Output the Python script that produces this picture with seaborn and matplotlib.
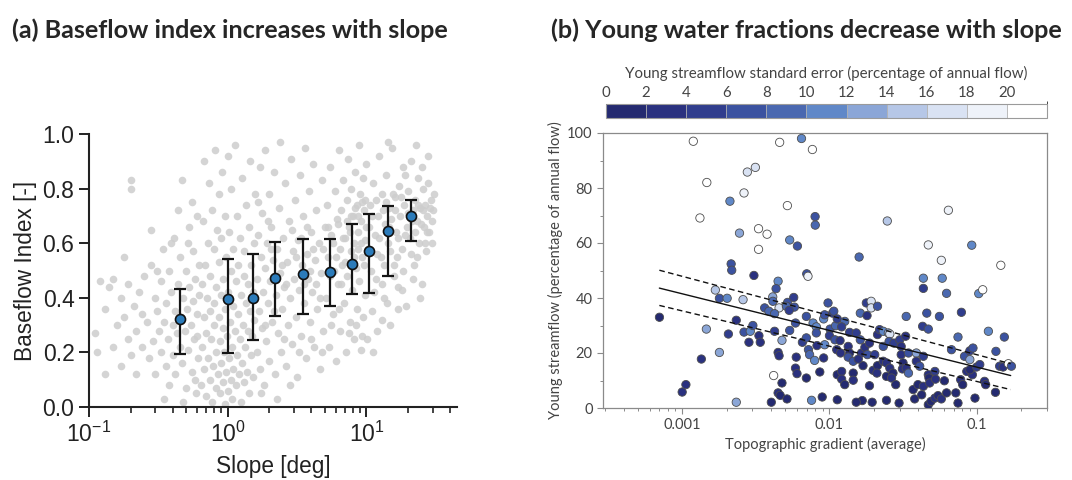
import numpy as np
import pandas as pd
import matplotlib
matplotlib.use("Agg")
import matplotlib.pyplot as plt
from matplotlib.colors import ListedColormap, BoundaryNorm
from matplotlib.cm import ScalarMappable
from matplotlib.ticker import LogLocator, NullFormatter, MultipleLocator
import seaborn as sns

# ---- panel (a): binned means with spread
bin_slope = [0.45, 1.0, 1.53, 2.21, 3.48, 5.49, 7.92, 10.5, 14.2, 20.8]
bin_mean = [0.323, 0.396, 0.398, 0.473, 0.488, 0.493, 0.525, 0.570, 0.643, 0.698]
bin_low = [0.193, 0.198, 0.244, 0.335, 0.341, 0.371, 0.414, 0.418, 0.479, 0.608]
bin_high = [0.433, 0.543, 0.560, 0.606, 0.617, 0.617, 0.669, 0.706, 0.735, 0.759]

# ---- panel (a): catchment cloud (slope in deg, baseflow index)
cloud_slope = [
    0.11, 0.12, 0.13, 0.13, 0.14, 0.15, 0.15, 0.16, 0.17, 0.17, 0.18, 0.19, 0.19, 0.2, 0.2,
    0.21, 0.22, 0.22, 0.23, 0.24, 0.24, 0.25, 0.18, 0.2, 0.115,
    0.26, 0.27, 0.28, 0.29, 0.3, 0.3, 0.31, 0.32, 0.33, 0.33, 0.34, 0.35, 0.36, 0.36, 0.37,
    0.38, 0.38, 0.39, 0.4, 0.4, 0.41, 0.42, 0.42, 0.43, 0.44, 0.45, 0.45, 0.46, 0.47, 0.47,
    0.48, 0.49, 0.5, 0.5, 0.51, 0.52, 0.53, 0.53, 0.54, 0.55, 0.56, 0.56, 0.57, 0.58, 0.59,
    0.6, 0.6, 0.61, 0.62, 0.62, 0.28, 0.35, 0.44, 0.52, 0.58, 0.31, 0.39, 0.48, 0.55, 0.6,
    0.64, 0.65, 0.65, 0.66, 0.67, 0.67, 0.68, 0.69, 0.7, 0.7, 0.71, 0.72, 0.72, 0.73, 0.74,
    0.74, 0.75, 0.76, 0.77, 0.77, 0.78, 0.79, 0.8, 0.8, 0.81, 0.82, 0.83, 0.83, 0.84, 0.85,
    0.86, 0.86, 0.87, 0.88, 0.88, 0.89, 0.9, 0.9, 0.91, 0.92, 0.93, 0.93, 0.94, 0.95, 0.96,
    0.96, 0.97, 0.98, 0.99, 1.0, 1.0, 1.01, 1.02, 1.03, 1.04, 1.05, 1.05, 1.06, 1.07, 1.08,
    1.09, 1.1, 1.1, 1.12, 1.13, 1.14, 1.15, 1.16, 1.17, 1.18, 1.19, 1.2, 1.22, 1.23, 1.24,
    1.25, 1.26, 1.27, 1.28, 1.3, 1.31, 1.32, 1.34, 1.35, 1.36, 1.38, 1.39, 1.4, 1.42, 1.43,
    1.44, 1.46, 1.47, 1.48, 1.5, 1.52, 1.53, 1.55, 1.56, 1.58,
    1.62, 1.64, 1.66, 1.68, 1.7, 1.72, 1.74, 1.76, 1.78, 1.8, 1.83, 1.85, 1.87, 1.9, 1.92,
    1.95, 1.97, 2.0, 2.03, 2.06, 2.1, 2.13, 2.16, 2.2, 2.23, 2.26, 2.3, 2.33, 2.37, 2.4,
    2.44, 2.48, 2.52, 2.56, 2.6, 2.64, 2.68, 2.72, 2.77, 2.82, 2.86, 2.9, 2.95, 3.0, 3.05,
    3.1, 3.15, 3.2, 3.25, 3.3, 3.36, 3.42, 3.48, 3.54, 3.6, 3.66, 3.72, 3.78, 3.85, 3.92,
    4.0, 4.07, 4.14, 4.2, 4.28, 4.36, 4.44, 4.52, 4.6, 4.7, 4.8, 4.9, 5.0, 1.75, 2.25,
    2.8, 1.95, 2.45, 3.1, 3.7, 4.3, 4.85, 1.65, 2.15, 2.65, 3.4, 3.9, 4.6, 2.05, 2.9,
    3.55, 4.15, 1.85, 2.55, 3.25, 4.0, 4.75,
    5.1, 5.2, 5.3, 5.4, 5.5, 5.6, 5.7, 5.8, 5.9, 6.0, 6.1, 6.2, 6.3, 6.4, 6.5,
    6.6, 6.7, 6.8, 6.9, 7.0, 7.1, 7.2, 7.3, 7.4, 7.5, 7.6, 7.7, 7.8, 7.9, 8.0,
    8.1, 8.2, 8.3, 8.4, 8.5, 8.6, 8.7, 8.8, 8.9, 9.0, 9.1, 9.2, 9.3, 9.4, 9.5,
    9.6, 9.7, 9.8, 9.9, 10.0, 5.25, 5.75, 6.25, 6.75, 7.25, 7.75, 8.25, 8.75, 9.25, 9.75,
    5.45, 6.05, 6.55, 7.05, 7.65, 8.15, 8.65, 9.15, 9.65, 5.6, 6.35, 7.45, 8.45, 9.35,
    10.3, 10.6, 10.9, 11.2, 11.5, 11.8, 12.1, 12.4, 12.7, 13.0, 13.3, 13.6, 13.9, 14.2, 14.5,
    14.8, 15.1, 15.4, 15.7, 16.0, 16.4, 16.8, 17.2, 17.6, 18.0, 18.4, 18.8, 19.2, 19.6, 20.0,
    20.5, 21.0, 21.5, 22.0, 22.5, 23.0, 23.5, 24.0, 24.5, 25.0, 25.5, 26.0, 26.5, 27.0, 27.5,
    28.0, 28.5, 29.0, 29.5, 30.0, 10.5, 11.0, 11.7, 12.3, 13.1, 13.8, 14.6, 15.5, 16.2, 17.0,
    17.9, 18.9, 19.9, 21.2, 22.3, 23.4, 24.6, 25.8, 27.2, 28.6, 10.8, 11.9, 13.4, 14.9, 16.6,
    18.5, 20.8, 23.3, 26.3, 11.4, 12.9, 14.0, 15.9, 18.2, 21.7, 10.1, 11.1, 12.0, 13.0, 16.9,
    24.2, 29.8, 27.9, 14.3, 22.8, 30.5, 19.0, 25.2,
]
cloud_bfi = [
    0.27, 0.46, 0.12, 0.36, 0.44, 0.22, 0.47, 0.30, 0.15, 0.40, 0.33, 0.25, 0.45, 0.83, 0.19,
    0.37, 0.28, 0.12, 0.42, 0.34, 0.22, 0.48, 0.55, 0.80, 0.20,
    0.31, 0.18, 0.52, 0.24, 0.40, 0.12, 0.35, 0.28, 0.46, 0.20, 0.58, 0.31, 0.15, 0.38, 0.25,
    0.50, 0.08, 0.42, 0.30, 0.19, 0.62, 0.35, 0.12, 0.27, 0.45, 0.22, 0.55, 0.33, 0.83, 0.16,
    0.40, 0.28, 0.07, 0.50, 0.36, 0.21, 0.66, 0.44, 0.30, 0.13, 0.39, 0.57, 0.25, 0.47, 0.05,
    0.34, 0.70, 0.18, 0.52, 0.41, 0.65, 0.03, 0.72, 0.60, 0.10, 0.50, 0.60, 0.02, 0.75, 0.26,
    0.08, 0.22, 0.45, 0.68, 0.14, 0.33, 0.90, 0.52, 0.04, 0.27, 0.40, 0.60, 0.18, 0.82, 0.10,
    0.35, 0.48, 0.25, 0.72, 0.02, 0.15, 0.38, 0.58, 0.30, 0.94, 0.07, 0.20, 0.44, 0.65, 0.12,
    0.33, 0.53, 0.78, 0.05, 0.24, 0.41, 0.16, 0.62, 0.86, 0.29, 0.09, 0.47, 0.20, 0.70, 0.36,
    0.01, 0.13, 0.55, 0.26, 0.92, 0.06, 0.42, 0.18, 0.64, 0.31, 0.10, 0.50, 0.80, 0.22, 0.03,
    0.37, 0.58, 0.14, 0.28, 0.96, 0.46, 0.08, 0.19, 0.70, 0.34, 0.52, 0.12, 0.25, 0.62, 0.41,
    0.02, 0.84, 0.16, 0.30, 0.48, 0.09, 0.57, 0.22, 0.38, 0.74, 0.13, 0.45, 0.28, 0.66, 0.05,
    0.35, 0.90, 0.19, 0.52, 0.26, 0.42, 0.11, 0.60, 0.32, 0.78,
    0.20, 0.47, 0.63, 0.35, 0.88, 0.14, 0.55, 0.29, 0.71, 0.42, 0.08, 0.51, 0.94, 0.24, 0.60,
    0.38, 0.78, 0.17, 0.46, 0.66, 0.31, 0.54, 0.86, 0.12, 0.41, 0.58, 0.27, 0.73, 0.49, 0.97,
    0.20, 0.36, 0.62, 0.44, 0.82, 0.15, 0.53, 0.30, 0.68, 0.40, 0.91, 0.23, 0.57, 0.47, 0.76,
    0.33, 0.11, 0.61, 0.43, 0.85, 0.26, 0.52, 0.70, 0.38, 0.95, 0.18, 0.56, 0.47, 0.79, 0.31,
    0.64, 0.42, 0.89, 0.22, 0.54, 0.72, 0.36, 0.60, 0.14, 0.49, 0.83, 0.28, 0.66, 0.05, 0.03,
    0.08, 0.68, 0.52, 0.55, 0.66, 0.45, 0.58, 0.75, 0.35, 0.45, 0.62, 0.50, 0.40, 0.58, 0.65,
    0.45, 0.58, 0.30, 0.25, 0.20, 0.25, 0.20,
    0.40, 0.74, 0.55, 0.22, 0.88, 0.63, 0.34, 0.50, 0.79, 0.17, 0.69, 0.45, 0.94, 0.58, 0.28,
    0.72, 0.52, 0.83, 0.38, 0.62, 0.20, 0.76, 0.48, 0.91, 0.66, 0.31, 0.57, 0.80, 0.43, 0.70,
    0.25, 0.60, 0.86, 0.51, 0.74, 0.36, 0.64, 0.96, 0.46, 0.78, 0.21, 0.68, 0.55, 0.84, 0.33,
    0.72, 0.61, 0.41, 0.89, 0.66, 0.66, 0.60, 0.67, 0.62, 0.68, 0.70, 0.73, 0.70, 0.75, 0.76,
    0.48, 0.55, 0.45, 0.53, 0.64, 0.55, 0.58, 0.60, 0.52, 0.30, 0.36, 0.27, 0.30, 0.26,
    0.58, 0.74, 0.35, 0.82, 0.63, 0.47, 0.70, 0.92, 0.55, 0.78, 0.40, 0.67, 0.85, 0.60, 0.73,
    0.30, 0.69, 0.95, 0.52, 0.77, 0.64, 0.44, 0.81, 0.70, 0.58, 0.88, 0.74, 0.37, 0.66, 0.79,
    0.62, 0.90, 0.72, 0.52, 0.76, 0.68, 0.84, 0.60, 0.73, 0.45, 0.80, 0.66, 0.74, 0.57, 0.70,
    0.82, 0.64, 0.76, 0.68, 0.72, 0.66, 0.70, 0.76, 0.62, 0.72, 0.75, 0.66, 0.78, 0.72, 0.62,
    0.77, 0.63, 0.71, 0.68, 0.64, 0.74, 0.67, 0.72, 0.64, 0.73, 0.50, 0.56, 0.52, 0.57, 0.55,
    0.50, 0.56, 0.55, 0.60, 0.42, 0.45, 0.38, 0.48, 0.43, 0.47, 0.25, 0.20, 0.28, 0.32, 0.36,
    0.40, 0.60, 0.92, 0.97, 0.96, 0.78, 0.85, 0.88,
]

# ---- panel (b): catchments (gradient, young water %, standard error %)
grad = [
    0.00119, 0.00459, 0.00646, 0.00766, 0.00277, 0.00314, 0.00147, 0.00263, 0.00211, 0.00518,
    0.00132, 0.00799, 0.00801, 0.0247, 0.0642, 0.00330, 0.00377, 0.00245, 0.00537, 0.00606,
    0.00330, 0.0469, 0.0925, 0.0159, 0.0575, 0.1457, 0.00215, 0.00217, 0.00307, 0.00701,
    0.00715, 0.0434, 0.0583, 0.0434, 0.0624, 0.1032, 0.1098, 0.00448, 0.00434, 0.00168,
    0.00179, 0.00202, 0.00259, 0.00412, 0.00413, 0.00455, 0.00520, 0.00572, 0.00578, 0.00510,
    0.00533, 0.00363, 0.00388, 0.00424, 0.00233, 0.00146, 0.00179, 0.000701, 0.00206, 0.00135,
    0.00106, 0.00100, 0.00233, 0.00263, 0.00290, 0.00302, 0.00332, 0.00284, 0.00339, 0.00424,
    0.00537, 0.00588, 0.00476, 0.00448, 0.00455, 0.00418, 0.00476, 0.00448, 0.00463, 0.00515,
    0.00403, 0.00595, 0.00588, 0.00602, 0.00697, 0.00655, 0.00697, 0.00720, 0.00733, 0.00793,
    0.00756, 0.00697, 0.00774, 0.00815, 0.00815, 0.00823, 0.00860, 0.00893, 0.00913, 0.00928,
    0.00913, 0.00928, 0.00978, 0.0105, 0.0107, 0.0101, 0.0100, 0.0110, 0.0113, 0.0109,
    0.0112, 0.0113, 0.0113, 0.0121, 0.0121, 0.0127, 0.0119, 0.0127, 0.0121, 0.0118,
    0.0134, 0.0137, 0.0134, 0.0145, 0.0145, 0.0145, 0.0137, 0.0152, 0.0162, 0.0162,
    0.0178, 0.0180, 0.0192, 0.0192, 0.0212, 0.0165, 0.0174, 0.0181, 0.0187, 0.0169,
    0.0157, 0.0187, 0.0167, 0.0152, 0.0195, 0.0198, 0.0203, 0.0212, 0.0210, 0.0212,
    0.0219, 0.0232, 0.0251, 0.0257, 0.0232, 0.0232, 0.0244, 0.0244, 0.0257, 0.0270,
    0.0264, 0.0244, 0.0282, 0.0297, 0.0254, 0.0274, 0.0300, 0.0307, 0.0307, 0.0316,
    0.0313, 0.0329, 0.0332, 0.0344, 0.0332, 0.0344, 0.0370, 0.0379, 0.0389, 0.0389,
    0.0410, 0.0399, 0.0434, 0.0423, 0.0429, 0.0469, 0.0458, 0.0434, 0.0469, 0.0474,
    0.0479, 0.0469, 0.0489, 0.0520, 0.0546, 0.0575, 0.0520, 0.0525, 0.0558, 0.0603,
    0.0624, 0.0674, 0.0721, 0.0746, 0.0746, 0.0787, 0.0778, 0.0803, 0.0826, 0.0856,
    0.0898, 0.0898, 0.0943, 0.0934, 0.0898, 0.0998, 0.1049, 0.0973, 0.113, 0.115,
    0.120, 0.135, 0.143, 0.151, 0.134, 0.154, 0.164, 0.172,
]
young = [
    97.0, 96.6, 98.0, 94.0, 85.8, 87.5, 82.0, 78.2, 75.2, 73.6,
    69.1, 69.6, 66.5, 68.0, 71.9, 65.2, 63.2, 63.6, 61.1, 58.9,
    57.7, 59.3, 59.2, 54.9, 53.7, 51.9, 52.4, 50.1, 48.2, 48.8,
    47.9, 47.2, 47.2, 43.5, 41.7, 41.6, 43.0, 46.1, 43.4, 42.9,
    39.9, 39.9, 39.4, 40.4, 38.8, 36.4, 38.4, 40.2, 36.7, 37.0,
    35.5, 36.4, 35.2, 34.3, 31.9, 28.7, 20.2, 33.0, 26.9, 17.8,
    8.5, 5.8, 2.1, 27.6, 27.9, 30.0, 26.3, 23.9, 23.9, 27.9,
    28.2, 30.9, 24.6, 20.2, 19.0, 11.8, 9.1, 5.5, 4.6, 3.3,
    2.1, 18.5, 14.5, 12.5, 10.9, 23.9, 25.5, 21.2, 19.4, 17.3,
    2.8, 33.3, 30.9, 29.5, 27.3, 22.7, 13.1, 4.0, 18.2, 23.0,
    32.4, 33.9, 38.2, 34.5, 35.2, 28.7, 26.3, 29.9, 32.4, 24.8,
    21.2, 12.1, 3.0, 13.3, 10.5, 8.5, 20.0, 31.5, 29.5, 24.5,
    22.4, 20.0, 18.5, 17.0, 12.7, 10.1, 27.5, 27.3, 24.8, 34.5,
    38.2, 33.6, 38.8, 36.4, 37.0, 20.0, 22.1, 19.4, 23.6, 15.4,
    17.8, 8.1, 2.7, 2.1, 2.1, 13.7, 19.4, 15.4, 12.7, 26.7,
    28.5, 27.9, 27.3, 26.9, 22.4, 17.0, 16.4, 11.5, 14.5, 12.7,
    10.9, 2.8, 8.5, 1.8, 24.2, 23.6, 24.8, 22.4, 19.4, 16.4,
    14.2, 26.1, 33.3, 20.0, 14.5, 12.7, 6.7, 3.3, 20.0, 17.0,
    15.2, 8.5, 7.9, 4.8, 29.7, 28.7, 34.5, 18.8, 12.1, 10.9,
    9.1, 1.2, 2.4, 3.6, 4.5, 3.3, 13.3, 10.5, 33.3, 9.9,
    5.5, 21.2, 5.5, 25.8, 1.8, 34.8, 10.3, 8.5, 18.8, 13.3,
    20.8, 17.6, 21.8, 12.1, 13.9, 14.9, 15.8, 3.6, 9.7, 8.5,
    27.9, 20.6, 15.2, 14.9, 5.7, 25.8, 16.1, 15.2,
]
std_err = [
    21, 21, 11, 21, 17, 17, 21, 19, 11, 21,
    21, 7, 9, 15, 19, 21, 21, 13, 11, 7,
    21, 19, 11, 9, 19, 21, 7, 7, 3, 7,
    19, 11, 11, 5, 9, 11, 21, 11, 7, 15,
    7, 11, 15, 13, 9, 17, 7, 5, 7, 9,
    5, 7, 9, 9, 3, 13, 13, 1, 5, 3,
    3, 3, 13, 7, 11, 7, 3, 3, 3, 5,
    7, 7, 13, 3, 3, 21, 1, 3, 1, 1,
    1, 3, 3, 3, 1, 5, 7, 7, 9, 11,
    11, 7, 11, 11, 7, 3, 1, 1, 3, 11,
    11, 7, 7, 5, 7, 7, 5, 9, 5, 7,
    3, 1, 1, 3, 3, 1, 3, 9, 5, 3,
    3, 1, 7, 7, 1, 3, 5, 5, 7, 9,
    5, 3, 17, 17, 7, 3, 3, 7, 3, 1,
    3, 1, 1, 1, 1, 3, 5, 1, 3, 3,
    5, 11, 13, 17, 7, 3, 3, 1, 3, 1,
    3, 1, 1, 1, 7, 5, 5, 3, 3, 1,
    3, 3, 9, 7, 3, 9, 1, 1, 13, 3,
    7, 1, 3, 1, 5, 7, 7, 5, 3, 1,
    3, 1, 1, 3, 1, 3, 5, 3, 7, 1,
    1, 7, 1, 9, 1, 5, 3, 1, 7, 3,
    5, 13, 7, 3, 1, 5, 5, 1, 3, 1,
    11, 7, 5, 3, 1, 7, 21, 7,
]

# regression line and band (read at both ends)
fit_x = [0.0007, 0.17]
fit_mid = [43.6, 11.8]
fit_hi = [50.1, 16.1]
fit_lo = [37.3, 6.7]

err_edges = [0, 2, 4, 6, 8, 10, 12, 14, 16, 18, 20, 22]
err_colors = ["#242a70", "#2a317f", "#303d8d", "#3b52a0", "#4a68b0", "#6088c8",
              "#8ba6d7", "#b6c7e7", "#d9e2f3", "#eef2f9", "#ffffff"]

sns.set_style("ticks")
plt.rcParams["font.family"] = ["Liberation Sans", "DejaVu Sans"]

fig = plt.figure(figsize=(10.72, 4.8), dpi=100)

# ---------------- panel (a)
ax1 = fig.add_axes([89 / 1072, 1 - 407 / 480, 368 / 1072, 273 / 480])
sns.scatterplot(x=cloud_slope, y=cloud_bfi, color="#cdcdcd", s=30, linewidth=0,
                alpha=0.85, ax=ax1, zorder=1)
mean = np.array(bin_mean)
yerr = [mean - np.array(bin_low), np.array(bin_high) - mean]
ax1.errorbar(bin_slope, bin_mean, yerr=yerr, fmt="none", ecolor="#151515",
             elinewidth=1.6, capsize=4, capthick=1.6, zorder=3)
sns.scatterplot(x=bin_slope, y=bin_mean, color="#2b7bba", edgecolor="#111111",
                linewidth=1.2, s=52, ax=ax1, zorder=4)
ax1.set_xscale("log")
ax1.set_xlim(0.1, 45)
ax1.set_ylim(0, 1.0)
ax1.yaxis.set_major_locator(MultipleLocator(0.2))
ax1.xaxis.set_minor_locator(LogLocator(base=10, subs=np.arange(2, 10)))
ax1.xaxis.set_minor_formatter(NullFormatter())
sns.despine(ax=ax1)
for s in ["left", "bottom"]:
    ax1.spines[s].set_linewidth(1.5)
    ax1.spines[s].set_color("#222222")
ax1.tick_params(which="major", length=7, width=1.4, labelsize=16.5, colors="#222222")
ax1.tick_params(which="minor", length=4.5, width=1.2, colors="#222222")
ax1.set_ylabel("Baseflow Index [-]", fontsize=16.3, color="#222222", labelpad=4)
ax1.set_xlabel("Slope [deg]", fontsize=16.3, color="#222222", labelpad=6)

# ---------------- panel (b)
light = ["Lato", "DejaVu Sans"]
txt = "#444444"
ax2 = fig.add_axes([603 / 1072, 1 - 408 / 480, 444 / 1072, 275 / 480])
df = pd.DataFrame({"grad": grad, "young": young, "err": std_err})
df["bin"] = np.digitize(df["err"], err_edges[1:-1])
palette = {i: c for i, c in enumerate(err_colors)}
sns.scatterplot(data=df, x="grad", y="young", hue="bin", palette=palette,
                s=36, edgecolor="#4d4d4d", linewidth=0.6, legend=False, ax=ax2, zorder=3)
sns.lineplot(x=fit_x, y=fit_mid, color="#111111", linewidth=1.0, ax=ax2, zorder=4)
sns.lineplot(x=fit_x, y=fit_hi, color="#111111", linewidth=1.0, linestyle=(0, (4, 2.5)),
             ax=ax2, zorder=4)
sns.lineplot(x=fit_x, y=fit_lo, color="#111111", linewidth=1.0, linestyle=(0, (4, 2.5)),
             ax=ax2, zorder=4)
ax2.set_xscale("log")
ax2.set_xlim(0.00029, 0.30)
ax2.set_ylim(0, 100)
ax2.set_xticks([0.001, 0.01, 0.1])
ax2.set_xticklabels(["0.001", "0.01", "0.1"])
ax2.xaxis.set_minor_locator(LogLocator(base=10, subs=np.arange(2, 10)))
ax2.xaxis.set_minor_formatter(NullFormatter())
ax2.yaxis.set_major_locator(MultipleLocator(20))
ax2.yaxis.set_minor_locator(MultipleLocator(10))
for s in ax2.spines.values():
    s.set_color("#8a8a8a")
    s.set_linewidth(0.9)
ax2.tick_params(which="major", length=4, width=0.8, color="#8a8a8a", labelcolor=txt,
                labelsize=10.5)
ax2.tick_params(which="minor", length=2.5, width=0.7, color="#8a8a8a")
for lab in ax2.get_xticklabels() + ax2.get_yticklabels():
    lab.set_family(light)
ax2.set_xlabel("Topographic gradient (average)", fontsize=10.5, color=txt,
               family=light, labelpad=3)
ax2.set_ylabel("Young streamflow (percentage of annual flow)", fontsize=10.5,
               color=txt, family=light, labelpad=3)

# colour bar
cax = fig.add_axes([606 / 1072, 1 - 118 / 480, 441 / 1072, 14 / 480])
cmap = ListedColormap(err_colors)
norm = BoundaryNorm(err_edges, cmap.N)
cb = fig.colorbar(ScalarMappable(norm=norm, cmap=cmap), cax=cax, orientation="horizontal",
                  ticks=list(range(0, 21, 2)), drawedges=True)
cb.outline.set_edgecolor("#9a9a9a")
cb.outline.set_linewidth(0.8)
cb.dividers.set_color("#b0b0b0")
cb.dividers.set_linewidth(0.6)
cax.xaxis.set_ticks_position("top")
cax.tick_params(length=0, pad=3, labelsize=10.8, labelcolor=txt)
for lab in cax.get_xticklabels():
    lab.set_family(light)
fig.text(826 / 1072, 1 - 73 / 480, "Young streamflow standard error (percentage of annual flow)",
         ha="center", va="center", fontsize=10.8, color=txt, family=light)

# panel titles
fig.text(12 / 1072, 1 - 30 / 480, "(a) Baseflow index increases with slope",
         ha="left", va="center", fontsize=18.2, fontweight="bold", family=["Lato", "DejaVu Sans"])
fig.text(551 / 1072, 1 - 30 / 480, "(b) Young water fractions decrease with slope",
         ha="left", va="center", fontsize=18.2, fontweight="bold", family=["Lato", "DejaVu Sans"])

fig.savefig("out.png", dpi=100)
